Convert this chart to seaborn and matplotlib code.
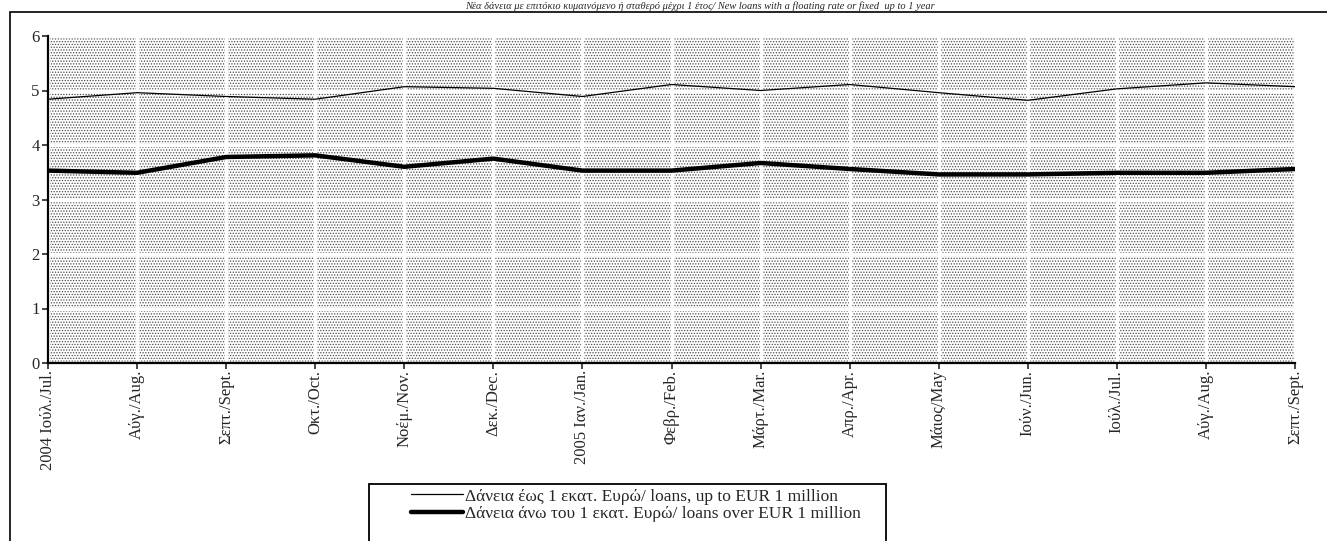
import pandas as pd
import numpy as np
import matplotlib
matplotlib.use("Agg")
import matplotlib.pyplot as plt
from matplotlib.patches import Rectangle
import seaborn as sns

months = ["2004 Ιούλ./Jul.", "Αύγ./Aug.", "Σεπτ./Sept.", "Οκτ./Oct.", "Νοέμ./Nov.",
          "Δεκ./Dec.", "2005 Ιαν./Jan.", "Φεβρ./Feb.", "Μάρτ./Mar.", "Απρ./Apr.",
          "Μάιος/May", "Ιούν./Jun.", "Ιούλ./Jul.", "Αύγ./Aug.", "Σεπτ./Sept."]
up_to_1m = [4.84, 4.96, 4.89, 4.84, 5.07, 5.04, 4.89, 5.11, 5.00, 5.11,
            4.96, 4.82, 5.03, 5.14, 5.07]
over_1m = [3.53, 3.49, 3.78, 3.81, 3.60, 3.75, 3.53, 3.53, 3.67, 3.56,
           3.46, 3.46, 3.49, 3.49, 3.56]
series_names = ["Δάνεια έως 1 εκατ. Ευρώ/ loans, up to EUR 1 million",
                "Δάνεια άνω του 1 εκατ. Ευρώ/ loans over EUR 1 million"]
title = ("Νέα δάνεια με επιτόκιο κυμαινόμενο ή σταθερό μέχρι 1 έτος/ "
         "New loans with a floating rate or fixed  up to 1 year")

sns.set_style("white")
plt.rcParams["font.family"] = ["Liberation Serif", "DejaVu Serif"]
plt.rcParams["hatch.linewidth"] = 0.6

W, H = 1327, 541
fig = plt.figure(figsize=(W / 100, H / 100), dpi=100)
ax = fig.add_axes([48 / W, 1 - 363 / H, (1295 - 48) / W, (363 - 36) / H])

df = pd.DataFrame({
    "pos": list(range(len(months))) * 2,
    "value": up_to_1m + over_1m,
    "series": [series_names[0]] * len(months) + [series_names[1]] * len(months),
})

# dotted background like the original
ax.add_patch(Rectangle((0, 0), 1, 1, transform=ax.transAxes, facecolor="white",
                       edgecolor="#4a4a4a", hatch="......", lw=0, zorder=0.2))

sns.lineplot(data=df[df.series == series_names[0]], x="pos", y="value",
             color="black", lw=0.9, ax=ax, label=series_names[0], zorder=3)
sns.lineplot(data=df[df.series == series_names[1]], x="pos", y="value",
             color="black", lw=3.2, ax=ax, label=series_names[1], zorder=3)

ax.set_xlim(0, len(months) - 1)
ax.set_ylim(0, 6)
ax.set_xticks(range(len(months)))
ax.set_xticklabels(months, rotation=90, va="top", ha="center", fontsize=12)
ax.set_yticks(range(0, 7))
ax.tick_params(axis="y", labelsize=12, length=4, width=1.2, direction="out", left=True, pad=2)
ax.tick_params(axis="x", length=4, width=1.2, direction="out", bottom=True, pad=1)
ax.set_xlabel("")
ax.set_ylabel("")
ax.set_axisbelow(True)
ax.grid(True, color="white", lw=2.5)
for s in ["top", "right"]:
    ax.spines[s].set_visible(False)
for s in ["left", "bottom"]:
    ax.spines[s].set_color("black")
    ax.spines[s].set_linewidth(1.6)
    ax.spines[s].set_zorder(4)

leg = ax.legend(loc="center", bbox_to_anchor=(636 / W, 1 - 505 / H),
                bbox_transform=fig.transFigure, frameon=False, fontsize=12.5,
                handlelength=3.0, handletextpad=0.1, labelspacing=0.05,
                borderpad=0)

# legend box and outer frame
fig.add_artist(Rectangle((369 / W, -0.05), (886 - 369) / W, 0.05 + (541 - 484) / H,
                         transform=fig.transFigure, fill=False, edgecolor="black", lw=1.3))
fig.add_artist(Rectangle((10 / W, -0.05), 1.1, 0.05 + (541 - 12) / H,
                         transform=fig.transFigure, fill=False, edgecolor="black", lw=1.2))

fig.text(700 / W, 1 - 1 / H, title, ha="center", va="top", fontsize=7.5,
         style="italic")

fig.savefig("out.png", dpi=100)
